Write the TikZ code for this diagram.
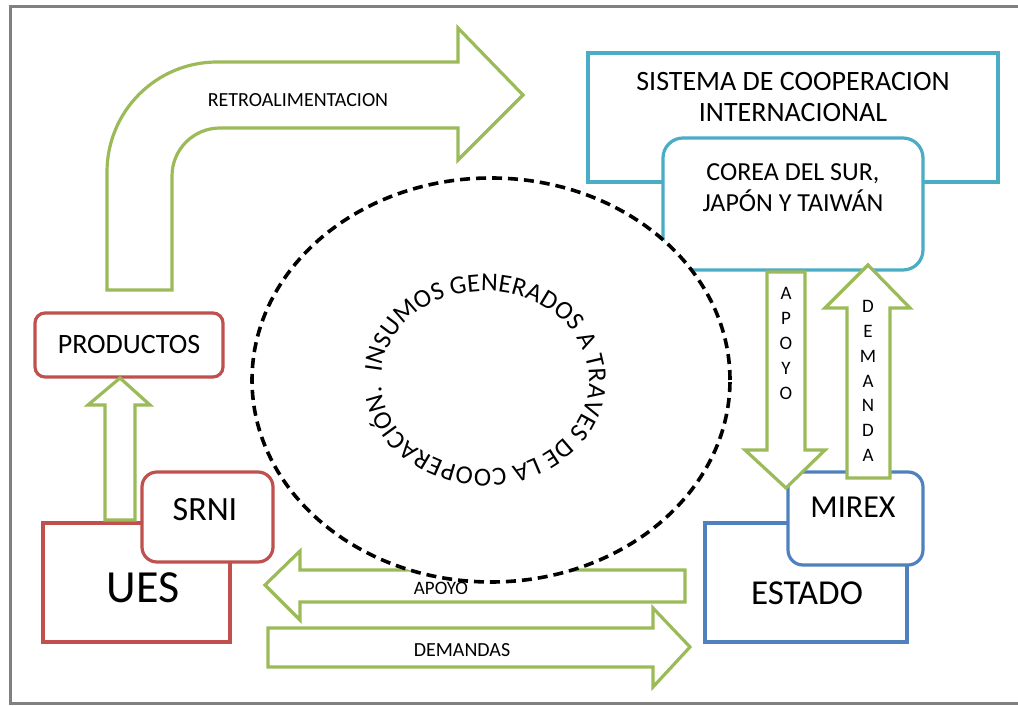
\documentclass[tikz,border=0pt]{standalone}
\usepackage{fontspec}
\setmainfont{Carlito}
\usetikzlibrary{shapes.geometric,decorations.text}
\definecolor{verde}{HTML}{9BBB59}
\definecolor{rojo}{HTML}{C0504D}
\definecolor{celeste}{HTML}{4BACC6}
\definecolor{azul}{HTML}{4F81BD}
\newcommand{\tam}[1]{\fontsize{#1}{#1}\selectfont}

\begin{document}
\begin{tikzpicture}[x=1pt, y=1pt,
  every node/.style = {align=center, text=black},
  caja/.style = {draw, line width=3.2pt, fill=white, inner sep=0pt},
  flecha/.style = {draw=verde, line width=3.2pt, fill=white, line join=miter}]
    \tikzstyle{roja}=[caja, draw=rojo]
    \tikzstyle{azulada}=[caja, draw=azul]
    \tikzstyle{cian}=[caja, draw=celeste]
  \useasboundingbox (0,0) rectangle (1018,705);
  \draw[gray, line width=3pt] (1030,2) -- (10,2) -- (10,698) -- (1030,698);

  \draw[flecha] (107,415) -- (107,533) arc[start angle=180, end angle=90, radius=110]
    -- (458,643) -- (458,677) -- (523,610) -- (458,545) -- (458,577) -- (220,577)
    arc[start angle=90, end angle=180, radius=48] -- (172,415) -- cycle;
  \node[font=\tam{20}] (retro) at (298,605) {RETROALIMENTACION};

  \node[cian, minimum width=410, minimum height=129] (sistema) at (793,587.5) {};
  \node[font=\fontsize{28}{31}\selectfont] (sistematxt) at (793,607.5)
    {SISTEMA DE COOPERACION\\INTERNACIONAL};
  \node[cian, rounded corners=20, minimum width=260, minimum height=132] (corea) at (793,501) {};
  \node[font=\fontsize{26}{31}\selectfont] (coreatxt) at (793,517.5)
    {COREA DEL SUR,\\JAPÓN Y TAIWÁN};

  \node[roja, rounded corners=10, minimum width=188, minimum height=64,
    font=\tam{28}] (productos) at (129,360) {PRODUCTOS};
  \node[roja, minimum width=187, minimum height=119] (ues) at (136.5,122.5) {};
  \node[font=\tam{46}] (uestxt) at (143,117) {UES};
  \node[roja, rounded corners=15, minimum width=131, minimum height=90] (srni) at (207.5,188) {};
  \node[font=\tam{34}] (srnitxt) at (205,195) {SRNI};

  \node[azulada, minimum width=202, minimum height=119] (estado) at (806,122.5) {};
  \node[font=\tam{35}] (estadotxt) at (807,112) {ESTADO};
  \node[azulada, rounded corners=15, minimum width=135, minimum height=93] (mirex) at (855.5,186.5) {};
  \node[font=\tam{32}] (mirextxt) at (853,198) {MIREX};

  \draw[flecha] (767,433) -- (805,433) -- (805,255) -- (825,255) -- (786,217)
    -- (745,255) -- (767,255) -- cycle;
  \node[font=\fontsize{19}{25}\selectfont] (apoyov) at (786,362) {A\\P\\O\\Y\\O};
  \draw[flecha] (847,227) -- (847,397) -- (825,397) -- (868,440) -- (910,397)
    -- (890,397) -- (890,227) -- cycle;
  \node[font=\fontsize{19}{24.7}\selectfont] (demandav) at (868,324) {D\\E\\M\\A\\N\\D\\A};

  \draw[flecha] (105,185) -- (105,300) -- (88,300) -- (120,327) -- (150,300)
    -- (135,300) -- (135,185) -- cycle;

  \draw[flecha] (685,135) -- (300,135) -- (300,154) -- (265,120) -- (300,85)
    -- (300,103) -- (685,103) -- cycle;
  \node[font=\tam{19}] (apoyoh) at (441,117) {APOYO};
  \draw[flecha] (268,77) -- (653,77) -- (653,97) -- (690,58) -- (653,18)
    -- (653,38) -- (268,38) -- cycle;
  \node[font=\tam{20}] (demandash) at (462,55) {DEMANDAS};

  \node[ellipse, draw, line width=3.6pt, dash pattern=on 10pt off 6pt, fill=white,
    inner sep=0pt, minimum width=478, minimum height=404] (nube) at (491,325) {};
  \coordinate (centro) at ([xshift=-6]nube.center);
  \path[decorate, decoration={text along path, text align={fit to path},
    text={|\tam{26}|INSUMOS GENERADOS A TRAVES DE LA COOPERACIÓN.}}]
    ([shift={(175:104 and 89)}]centro) arc[start angle=175, end angle=-176, x radius=104, y radius=89];
\end{tikzpicture}
\end{document}
